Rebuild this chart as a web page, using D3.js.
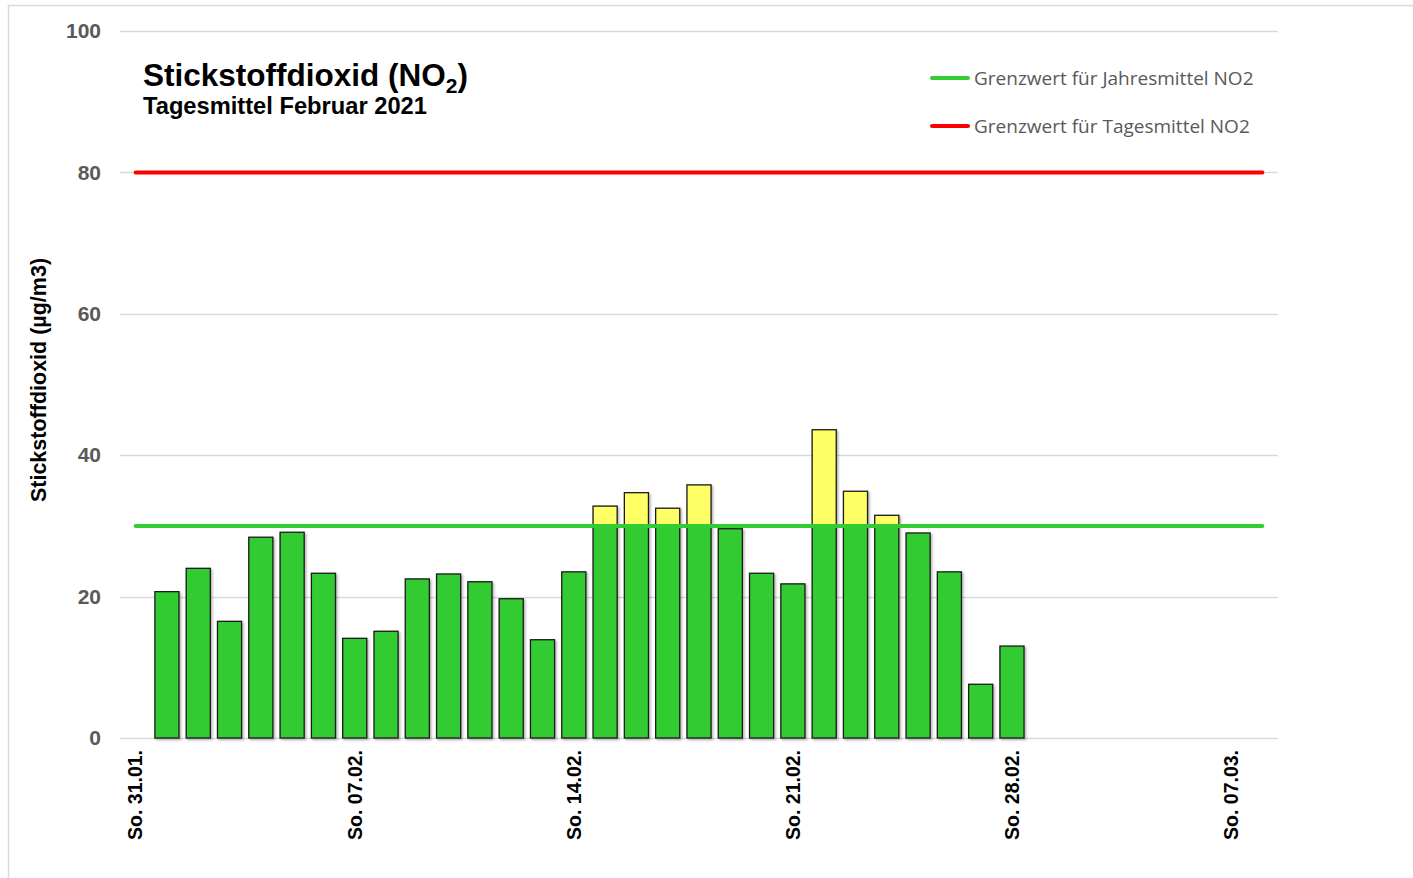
<!DOCTYPE html>
<html>
<head>
<meta charset="utf-8">
<script src="https://cdn.jsdelivr.net/npm/d3@7"></script>
<style>
  html, body { margin: 0; padding: 0; background: #fff; }
  svg { display: block; }
</style>
</head>
<body>
<svg id="chart" width="1413" height="878"></svg>
<script>
// ---------- DATA ----------
const days = [
  "31.01.", "01.02.", "02.02.", "03.02.", "04.02.", "05.02.", "06.02.",
  "07.02.", "08.02.", "09.02.", "10.02.", "11.02.", "12.02.", "13.02.",
  "14.02.", "15.02.", "16.02.", "17.02.", "18.02.", "19.02.", "20.02.",
  "21.02.", "22.02.", "23.02.", "24.02.", "25.02.", "26.02.", "27.02.",
  "28.02.", "01.03.", "02.03.", "03.03.", "04.03.", "05.03.", "06.03.",
  "07.03.", "08.03."
];
const no2Values = [
  null, 20.7, 24.0, 16.5, 28.4, 29.1, 23.3,
  14.1, 15.1, 22.5, 23.2, 22.1, 19.7, 13.9,
  23.5, 32.8, 34.7, 32.5, 35.8, 29.6, 23.3,
  21.8, 43.6, 34.9, 31.5, 29.0, 23.5, 7.6,
  13.0, null, null, null, null, null, null,
  null, null
];
const tickDays = ["31.01.", "07.02.", "14.02.", "21.02.", "28.02.", "07.03."];
const tickPrefix = "So. ";
const yTicks = [0, 20, 40, 60, 80, 100];
const limitAnnual = 30;   // Grenzwert Jahresmittel
const limitDaily = 80;    // Grenzwert Tagesmittel
const legendLabels = ["Grenzwert für Jahresmittel NO2", "Grenzwert für Tagesmittel NO2"];

// ---------- STYLE ----------
const GREEN = "#33cc33", YELLOW = "#ffff66", RED = "#ff0000";
const GRID = "#d9d9d9", TICKTXT = "#595959";

const svg = d3.select("#chart");

// outer frame
svg.append("rect")
  .attr("x", 8.5).attr("y", 5.5).attr("width", 1440).attr("height", 900)
  .attr("fill", "none").attr("stroke", GRID).attr("stroke-width", 1.5);

const defs = svg.append("defs");
const f = defs.append("filter").attr("id", "shadow")
  .attr("x", "-20%").attr("y", "-20%").attr("width", "140%").attr("height", "140%");
f.append("feDropShadow").attr("dx", 1.5).attr("dy", 1.5).attr("stdDeviation", 0.8)
  .attr("flood-color", "#000").attr("flood-opacity", 0.3);

const x = d3.scaleBand().domain(days).range([120, 1278]).paddingInner(0.23).paddingOuter(0.115);
const xc = d => x(d) + x.bandwidth() / 2;
const y = d3.scaleLinear().domain([0, 100]).range([738, 31]);

// gridlines
svg.append("g").selectAll("line").data(yTicks).join("line")
  .attr("x1", 120).attr("x2", 1278)
  .attr("y1", d => Math.round(y(d)) + 0.5).attr("y2", d => Math.round(y(d)) + 0.5)
  .attr("stroke", GRID).attr("stroke-width", 1.3);

// y axis tick labels
const yAxis = d3.axisLeft(y).tickValues(yTicks).tickSize(0).tickPadding(0);
const gy = svg.append("g").attr("transform", "translate(101,0)").call(yAxis);
gy.select(".domain").remove();
gy.selectAll("text")
  .attr("fill", TICKTXT)
  .style("font-family", "'Liberation Sans', Arial, sans-serif")
  .style("font-weight", "bold").style("font-size", "21px");

// bars (stacked: part up to annual limit green, excess yellow)
const barData = days.map((d, i) => ({ day: d, v: no2Values[i] })).filter(d => d.v != null);
const bars = svg.append("g").attr("filter", "url(#shadow)");
bars.selectAll("rect.g").data(barData).join("rect").attr("class", "g")
  .attr("x", d => x(d.day)).attr("width", x.bandwidth())
  .attr("y", d => y(Math.min(d.v, limitAnnual)))
  .attr("height", d => y(0) - y(Math.min(d.v, limitAnnual)))
  .attr("fill", GREEN).attr("stroke", "#1a1a1a").attr("stroke-width", 1.3);
bars.selectAll("rect.yel").data(barData.filter(d => d.v > limitAnnual)).join("rect").attr("class", "yel")
  .attr("x", d => x(d.day)).attr("width", x.bandwidth())
  .attr("y", d => y(d.v))
  .attr("height", d => y(limitAnnual) - y(d.v))
  .attr("fill", YELLOW).attr("stroke", "#1a1a1a").attr("stroke-width", 1.3);

// limit lines
const firstC = xc(days[0]), lastC = xc(days[days.length - 1]);
svg.append("line").attr("x1", firstC).attr("x2", lastC)
  .attr("y1", y(limitAnnual)).attr("y2", y(limitAnnual))
  .attr("stroke", GREEN).attr("stroke-width", 4).attr("stroke-linecap", "round");
svg.append("line").attr("x1", firstC).attr("x2", lastC)
  .attr("y1", y(limitDaily)).attr("y2", y(limitDaily))
  .attr("stroke", RED).attr("stroke-width", 4).attr("stroke-linecap", "round");

// x axis labels
const xAxis = d3.axisBottom(x).tickValues(tickDays).tickSize(0).tickFormat(d => tickPrefix + d);
const gx = svg.append("g").attr("transform", "translate(0,738)").call(xAxis);
gx.select(".domain").remove();
gx.selectAll("text")
  .attr("transform", "rotate(-90)")
  .attr("x", -12).attr("y", 0).attr("dy", "0.35em")
  .attr("text-anchor", "end")
  .attr("fill", "#000")
  .style("font-family", "'Liberation Sans', Arial, sans-serif")
  .style("font-weight", "bold").style("font-size", "19.5px");

// y axis title
svg.append("text")
  .attr("transform", "translate(46,380) rotate(-90)")
  .attr("text-anchor", "middle")
  .style("font-family", "'Liberation Sans', Arial, sans-serif")
  .style("font-weight", "bold").style("font-size", "21.5px")
  .attr("fill", "#000")
  .text("Stickstoffdioxid (µg/m3)");

// title
const t = svg.append("text").attr("x", 143).attr("y", 86)
  .style("font-family", "'Liberation Sans', Arial, sans-serif")
  .style("font-weight", "bold").style("font-size", "31.5px").attr("fill", "#000");
t.append("tspan").text("Stickstoffdioxid (NO");
t.append("tspan").attr("dy", 7).style("font-size", "21px").text("2");
t.append("tspan").attr("dy", -7).text(")");

svg.append("text").attr("x", 143).attr("y", 114)
  .style("font-family", "'Liberation Sans', Arial, sans-serif")
  .style("font-weight", "bold").style("font-size", "23.7px").attr("fill", "#000")
  .text("Tagesmittel Februar 2021");

// legend
const legendColors = [GREEN, RED];
const lg = svg.append("g");
legendLabels.forEach((lab, i) => {
  const ly = 78 + i * 48;
  lg.append("line").attr("x1", 932).attr("x2", 968).attr("y1", ly).attr("y2", ly)
    .attr("stroke", legendColors[i]).attr("stroke-width", 4).attr("stroke-linecap", "round");
  lg.append("text").attr("x", 974).attr("y", ly).attr("dy", "0.35em")
    .style("font-family", "'Open Sans', sans-serif").style("font-size", "19px")
    .attr("fill", TICKTXT).text(lab);
});
</script>
</body>
</html>
